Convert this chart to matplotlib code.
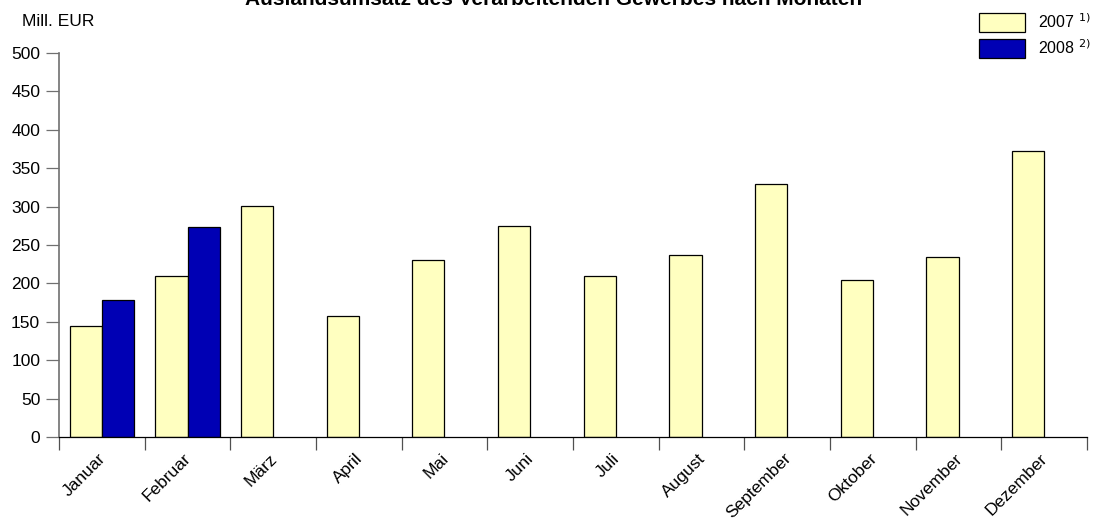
import numpy as np
import matplotlib.pyplot as plt
from matplotlib.transforms import ScaledTranslation

plt.rcParams['font.family'] = ['Liberation Sans', 'DejaVu Sans']

# Data
months = ["Januar", "Februar", "März", "April", "Mai", "Juni", "Juli",
          "August", "September", "Oktober", "November", "Dezember"]
umsatz_2007 = [144.5, 210, 301, 158, 231, 275, 209, 237, 329, 205, 235, 372]
umsatz_2008 = [178.5, 274]

x = np.arange(len(months))
w = 0.375

fig = plt.figure(figsize=(10.93, 5.21), dpi=100)
ax = fig.add_axes([59 / 1093, 1 - 437 / 521, 1028 / 1093, 384 / 521])

ax.bar(x - w / 2, umsatz_2007, width=w, color="#FFFFC0", edgecolor="black",
       linewidth=0.9, label="2007 $^{1)}$")
ax.bar(x[:len(umsatz_2008)] + w / 2, umsatz_2008, width=w, color="#0000B4",
       edgecolor="black", linewidth=0.9, label="2008 $^{2)}$")

ax.set_xlim(-0.5, len(months) - 0.5)
ax.set_ylim(0, 500)
ax.set_yticks(np.arange(0, 501, 50))
ax.tick_params(axis="y", length=9.5, width=0.9, color="#707070",
               labelsize=12.5, pad=4)

# month labels centred, tick marks on the boundaries
ax.set_xticks(x)
ax.set_xticklabels(months, rotation=45, ha="right", rotation_mode="anchor",
                   fontsize=12.5)
ax.tick_params(axis="x", which="major", length=0, pad=10)
ax.set_xticks(np.arange(-0.5, len(months), 1), minor=True)
ax.tick_params(axis="x", which="minor", length=9.5, width=0.9, color="#505050")
shift = ScaledTranslation(-4 / 100, 0, fig.dpi_scale_trans)
for lbl in ax.get_xticklabels():
    lbl.set_transform(lbl.get_transform() + shift)

for s in ["top", "right"]:
    ax.spines[s].set_visible(False)
ax.spines["left"].set_color("#707070")
ax.spines["left"].set_linewidth(1.2)
ax.spines["bottom"].set_color("black")
ax.spines["bottom"].set_linewidth(0.9)

fig.text(22 / 1093, 1 - 21 / 521, "Mill. EUR", fontsize=12.5, va="center")
fig.text(554 / 1093, 1 - 5 / 521, "Auslandsumsatz des Verarbeitenden Gewerbes nach Monaten",
         fontsize=15, fontweight="bold", ha="center", va="baseline")

fig.legend(loc="upper left", bbox_to_anchor=(979 / 1093, 1 - 12 / 521),
           frameon=False, fontsize=11.5, handlelength=2.88, handleheight=1.45,
           handletextpad=0.8, labelspacing=0.4, borderpad=0, borderaxespad=0)

fig.savefig("out.png", dpi=100)
